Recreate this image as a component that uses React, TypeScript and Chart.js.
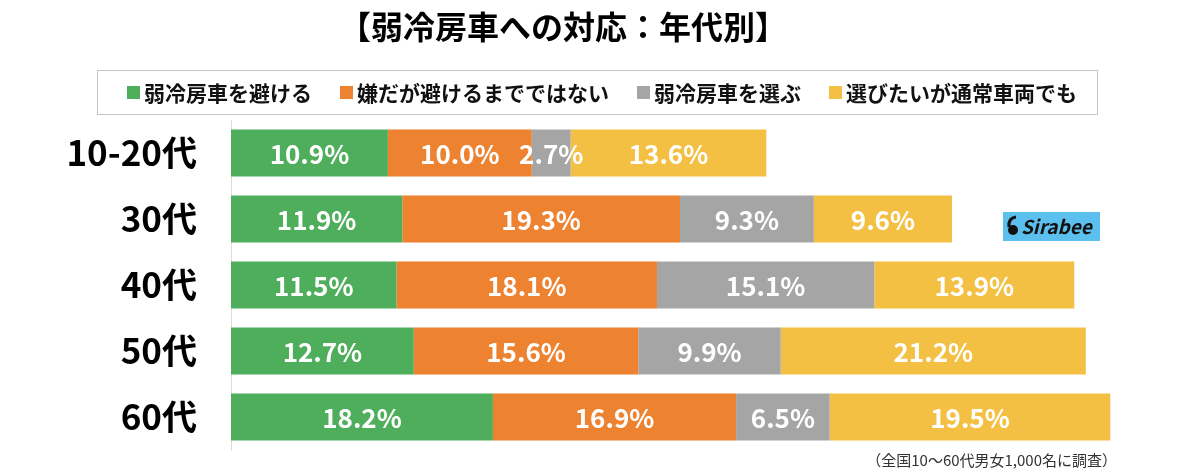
import React, { useEffect, useRef } from "react";
import { Chart, registerables } from "chart.js";
Chart.register(...registerables);

const TITLE = "【弱冷房車への対応：年代別】";
const NOTE = "（全国10～60代男女1,000名に調査）";
const LOGO = "Sirabee";
const categories = ["10-20代", "30代", "40代", "50代", "60代"];
const seriesNames = ["弱冷房車を避ける", "嫌だが避けるまでではない", "弱冷房車を選ぶ", "選びたいが通常車両でも"];
const avoid = [10.9, 11.9, 11.5, 12.7, 18.2];
const dislike = [10.0, 19.3, 18.1, 15.6, 16.9];
const choose = [2.7, 9.3, 15.1, 9.9, 6.5];
const wantButNormal = [13.6, 9.6, 13.9, 21.2, 19.5];
const colors = ["#4FAE5C", "#ED8231", "#A5A5A5", "#F3C043"];

const FONT = '"Noto Sans CJK JP", "Noto Sans", sans-serif';

const decorPlugin = {
  id: "decor",
  afterDraw(chart: any) {
    const ctx = chart.ctx as CanvasRenderingContext2D;
    ctx.save();
    // title
    ctx.fillStyle = "#000";
    ctx.font = `bold 32px ${FONT}`;
    ctx.textAlign = "center";
    ctx.textBaseline = "middle";
    ctx.fillText(TITLE, 563, 27);

    // legend box
    ctx.strokeStyle = "#8a8a8a";
    ctx.lineWidth = 1;
    ctx.setLineDash([1, 1]);
    ctx.strokeRect(97.5, 70.5, 1000, 44);
    ctx.setLineDash([]);
    ctx.font = `bold 21px ${FONT}`;
    const ds = chart.data.datasets;
    const sq = 13;
    const gapIn = 4;
    const gap = 28;
    const widths = ds.map((d: any) => sq + gapIn + ctx.measureText(d.label).width);
    const total = widths.reduce((a: number, b: number) => a + b, 0) + gap * (ds.length - 1);
    let x = 602 - total / 2;
    ctx.textAlign = "left";
    ds.forEach((d: any, i: number) => {
      ctx.fillStyle = d.backgroundColor;
      ctx.fillRect(x, 86, sq, sq);
      ctx.fillStyle = "#111";
      ctx.fillText(d.label, x + sq + gapIn, 93);
      x += widths[i] + gap;
    });

    // logo
    ctx.fillStyle = "#5BC0EE";
    ctx.fillRect(1003, 212, 97, 29);
    ctx.fillStyle = "#111";
    ctx.beginPath();
    ctx.arc(1013, 230, 5, 0, Math.PI * 2);
    ctx.fill();
    ctx.strokeStyle = "#111";
    ctx.lineWidth = 3;
    ctx.beginPath();
    ctx.moveTo(1009, 227);
    ctx.quadraticCurveTo(1008, 218, 1016, 217);
    ctx.stroke();
    ctx.font = `italic bold 19px ${FONT}`;
    ctx.textBaseline = "middle";
    ctx.fillText(LOGO, 1021, 227);

    // footnote
    ctx.fillStyle = "#333";
    ctx.font = `15px ${FONT}`;
    ctx.textAlign = "right";
    ctx.fillText(NOTE, 1117, 460);
    ctx.restore();
  },
};

const labelPlugin = {
  id: "barLabels",
  afterDatasetsDraw(chart: any) {
    const ctx = chart.ctx as CanvasRenderingContext2D;
    ctx.save();
    ctx.fillStyle = "#fff";
    ctx.font = `bold 26px ${FONT}`;
    ctx.textAlign = "center";
    ctx.textBaseline = "middle";
    chart.data.datasets.forEach((d: any, di: number) => {
      const meta = chart.getDatasetMeta(di);
      meta.data.forEach((bar: any, i: number) => {
        const v = d.data[i];
        const cx = (bar.x + bar.base) / 2;
        ctx.fillText(`${v.toFixed(1)}%`, cx, bar.y + 1);
      });
    });
    ctx.restore();
  },
};

export default function App() {
  const ref = useRef<HTMLCanvasElement | null>(null);
  useEffect(() => {
    if (!ref.current) return;
    const seriesData = [avoid, dislike, choose, wantButNormal];
    const chart = new Chart(ref.current, {
      type: "bar",
      data: {
        labels: categories,
        datasets: seriesNames.map((name, i) => ({
          label: name,
          data: seriesData[i],
          backgroundColor: colors[i],
          borderWidth: 0,
          barPercentage: 47 / 66,
          categoryPercentage: 1,
        })),
      },
      options: {
        indexAxis: "y",
        animation: false,
        responsive: false,
        maintainAspectRatio: false,
        devicePixelRatio: 1,
        layout: { padding: { top: 120, bottom: 23, left: 0, right: 48 } },
        plugins: {
          legend: { display: false },
          title: { display: false },
          tooltip: { enabled: false },
        },
        scales: {
          x: { stacked: true, display: false, min: 0, max: 64 },
          y: {
            stacked: true,
            grid: {
              display: true,
              drawOnChartArea: false,
              drawTicks: true,
              tickLength: 34,
              color: "rgba(0,0,0,0)",
            },
            border: { display: true, color: "#dcdcdc", width: 1 },
            ticks: {
              padding: 0,
              color: "#000",
              font: { family: FONT, size: 35, weight: "bold" },
            },
            afterFit(scale: any) {
              scale.width = 231;
            },
          },
        },
      },
      plugins: [labelPlugin, decorPlugin],
    });
    return () => chart.destroy();
  }, []);
  return (
    <div style={{ position: "absolute", left: 0, top: 0, width: 1200, height: 473, background: "#fff" }}>
      <canvas ref={ref} width={1200} height={473} style={{ display: "block" }} />
    </div>
  );
}
